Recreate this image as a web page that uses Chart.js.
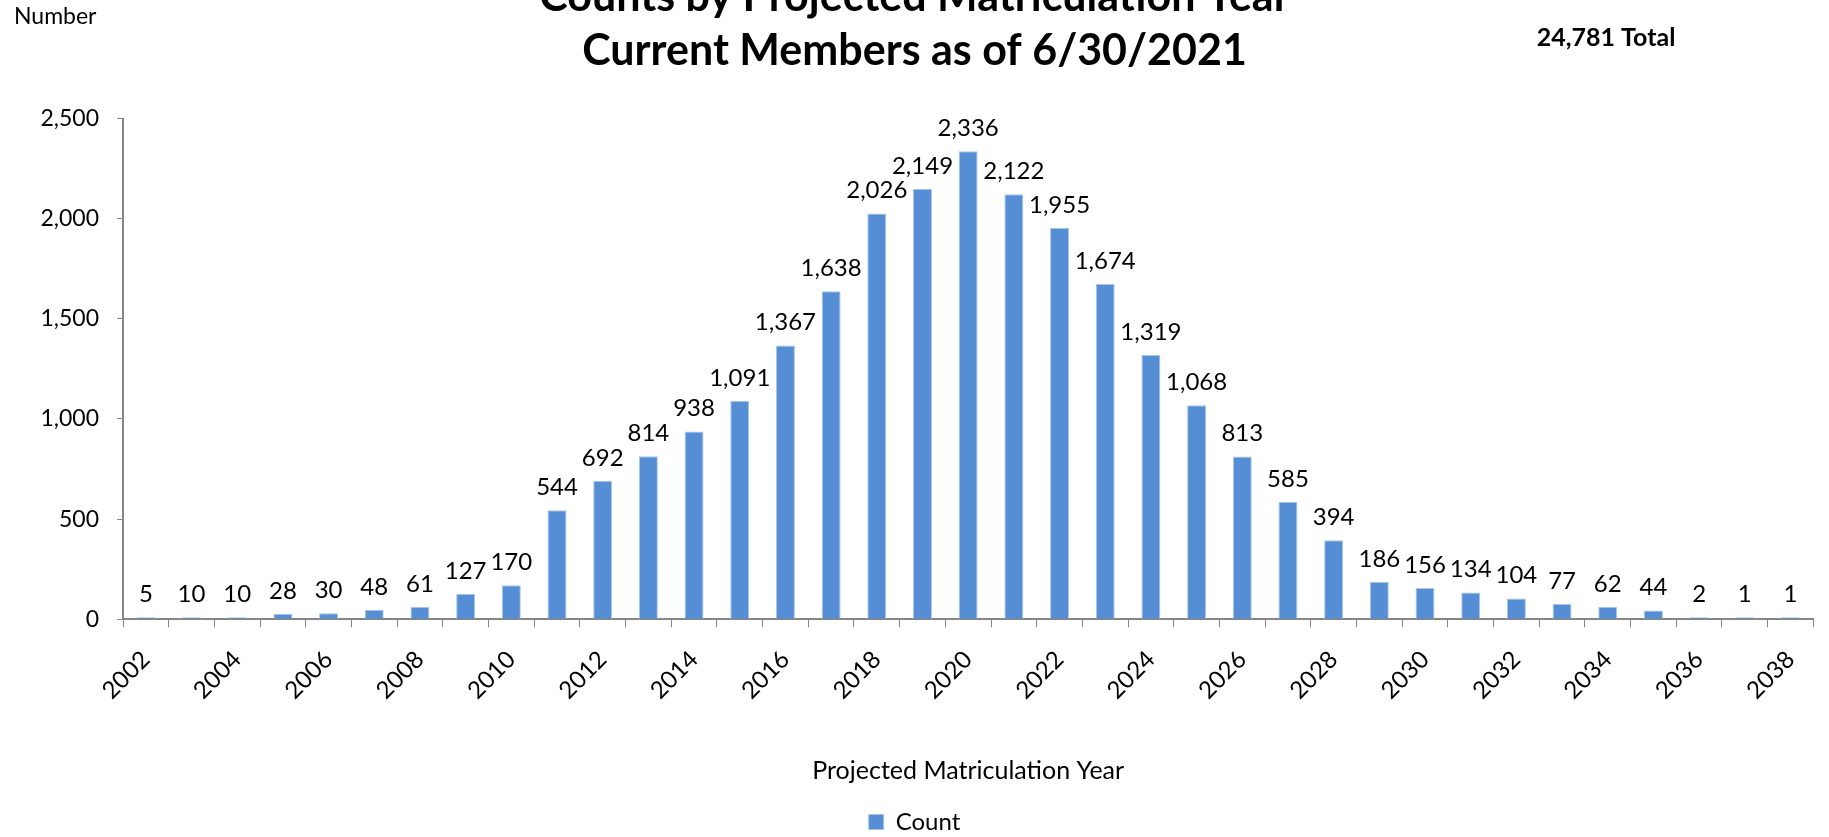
<!DOCTYPE html>
<html>
<head>
<meta charset="utf-8">
<script src="https://cdn.jsdelivr.net/npm/chart.js@4.4.1/dist/chart.umd.min.js"></script>
<style>
  html, body { margin: 0; padding: 0; background: #fff; overflow: hidden; }
  #wrap { position: absolute; left: 0; top: -30px; width: 1829px; height: 874px; }
</style>
</head>
<body>
<div id="wrap"><canvas id="matricChart"></canvas></div>
<script>
// Tahun matrikulasi (kategori)
const years = ['2002', '2003', '2004', '2005', '2006', '2007', '2008', '2009', '2010', '2011',
  '2012', '2013', '2014', '2015', '2016', '2017', '2018', '2019', '2020', '2021',
  '2022', '2023', '2024', '2025', '2026', '2027', '2028', '2029', '2030', '2031',
  '2032', '2033', '2034', '2035', '2036', '2037', '2038'];

// Jumlah anggota per tahun
const counts = [5, 10, 10, 28, 30, 48, 61, 127, 170, 544,
  692, 814, 938, 1091, 1367, 1638, 2026, 2149, 2336, 2122,
  1955, 1674, 1319, 1068, 813, 585, 394, 186, 156, 134,
  104, 77, 62, 44, 2, 1, 1];

const titleLines = ['Counts by Projected Matriculation Year', 'Current Members as of 6/30/2021'];
const yTicksMax = 2500;
const yTicksStep = 500;

const fontFamily = 'Lato, "Open Sans", sans-serif';
const axisColor = '#868686';

// Label angka di atas tiap batang + teks tambahan ("Number", total)
const extraText = {
  id: 'extraText',
  afterDatasetsDraw(chart) {
    const ctx = chart.ctx;
    const meta = chart.getDatasetMeta(0);
    ctx.save();
    ctx.fillStyle = '#000';
    ctx.font = '24px ' + fontFamily;
    ctx.textAlign = 'center';
    ctx.textBaseline = 'alphabetic';
    meta.data.forEach((bar, i) => {
      ctx.fillText(counts[i].toLocaleString('en-US'), bar.x, bar.y - 15);
    });

    ctx.textBaseline = 'middle';
    ctx.textAlign = 'left';
    ctx.font = '23px ' + fontFamily;
    ctx.fillText('Number', 14, 47);

    const total = counts.reduce((a, b) => a + b, 0);
    ctx.textAlign = 'center';
    ctx.font = 'bold 25px ' + fontFamily;
    ctx.fillText(total.toLocaleString('en-US') + ' Total', 1606, 68);
    ctx.restore();
  }
};

const ctxMain = document.getElementById('matricChart').getContext('2d');
new Chart(ctxMain, {
  type: 'bar',
  data: {
    labels: years,
    datasets: [{
      label: 'Count',
      data: counts,
      backgroundColor: '#558ED5',
      borderColor: '#A9C4EA',
      borderWidth: 1,
      minBarLength: 2,
      categoryPercentage: 1.0,
      barPercentage: 0.415
    }]
  },
  options: {
    responsive: true,
    maintainAspectRatio: false,
    animation: false,
    layout: { padding: { left: 10, right: 10, top: 0, bottom: 0 } },
    plugins: {
      title: {
        display: true,
        text: titleLines,
        color: '#000',
        font: { family: fontFamily, size: 43, weight: 'bold', lineHeight: 1.25 },
        padding: { top: 0, bottom: 41 }
      },
      legend: {
        display: true,
        position: 'bottom',
        labels: {
          color: '#000',
          font: { family: fontFamily, size: 24 },
          boxWidth: 15,
          boxHeight: 15,
          padding: 4
        }
      },
      tooltip: { enabled: false }
    },
    scales: {
      x: {
        grid: {
          display: true,
          offset: true,
          drawOnChartArea: false,
          drawTicks: true,
          tickLength: 8,
          color: axisColor
        },
        border: { display: true, color: axisColor, width: 2 },
        ticks: {
          color: '#000',
          font: { family: fontFamily, size: 24 },
          autoSkip: false,
          minRotation: 45,
          maxRotation: 45,
          padding: 18,
          callback: function (v, i) { return i % 2 === 0 ? this.getLabelForValue(v) : ''; }
        },
        title: {
          display: true,
          text: 'Projected Matriculation Year',
          color: '#000',
          font: { family: fontFamily, size: 25 },
          padding: { top: 33, bottom: 20 }
        }
      },
      y: {
        min: 0,
        max: yTicksMax,
        grid: {
          display: true,
          drawOnChartArea: false,
          drawTicks: true,
          tickLength: 6,
          color: axisColor
        },
        border: { display: true, color: axisColor, width: 2 },
        ticks: {
          stepSize: yTicksStep,
          color: '#000',
          font: { family: fontFamily, size: 23 },
          padding: 18
        },
        afterFit: (scale) => { scale.width = 113; }
      }
    }
  },
  plugins: [extraText]
});
</script>
</body>
</html>
